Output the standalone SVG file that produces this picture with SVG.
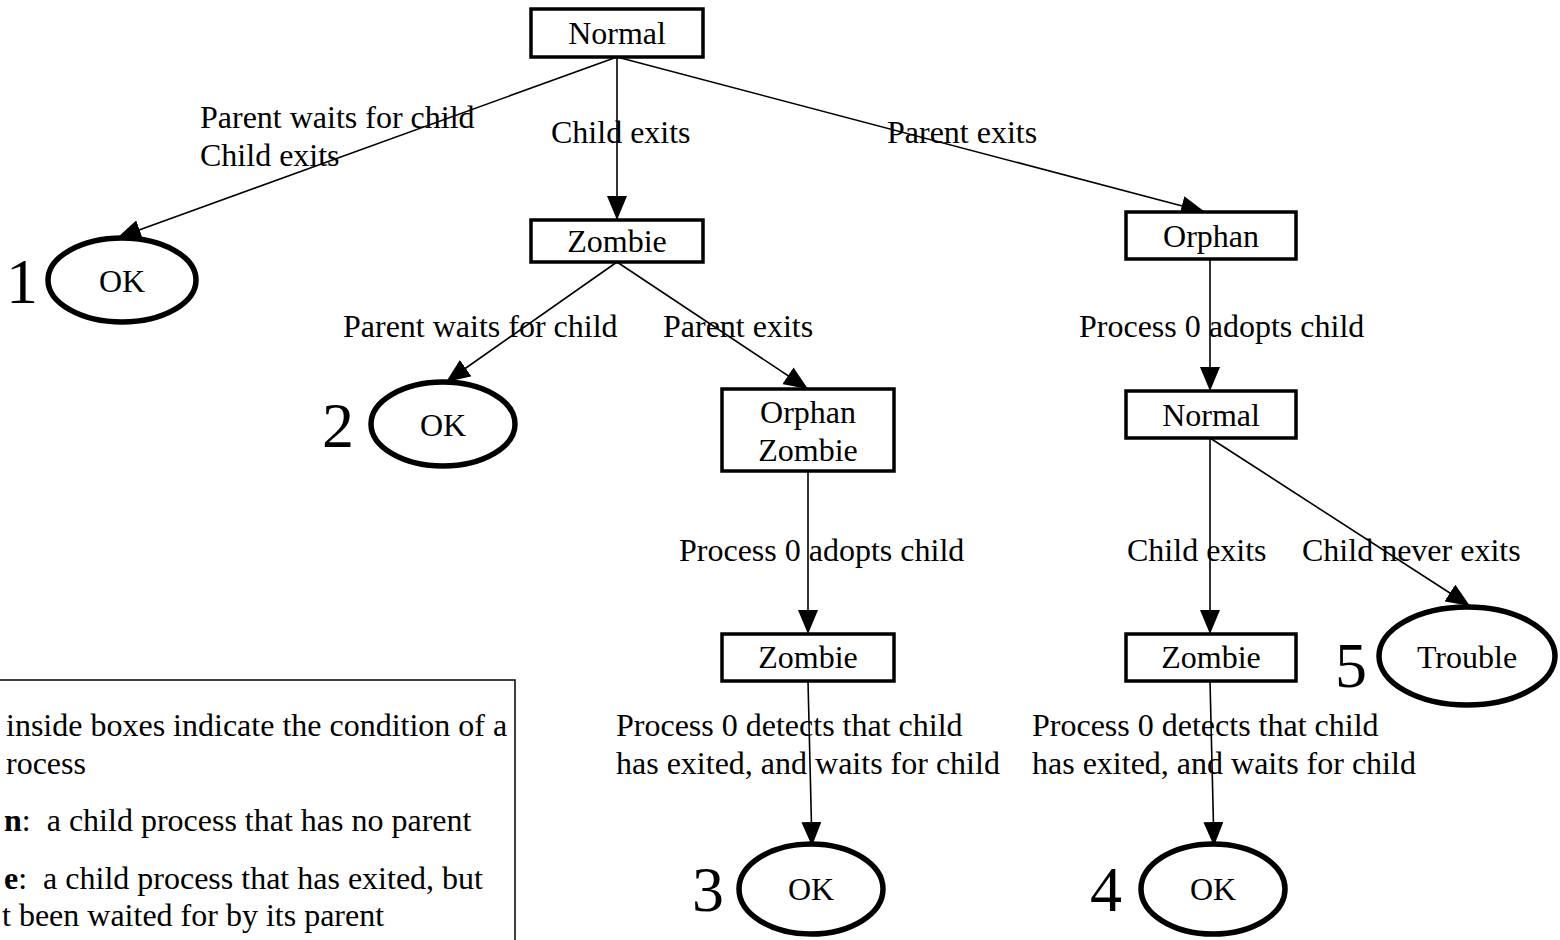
<svg xmlns="http://www.w3.org/2000/svg" width="1560" height="940" viewBox="0 0 1560 940">
<defs>
<marker id="ah" markerUnits="userSpaceOnUse" markerWidth="24" markerHeight="20" viewBox="0 0 24 20" refX="24" refY="10" orient="auto">
<path d="M0,0 L24,10 L0,20 Z" fill="#000"/>
</marker>
<style>
text{font-family:"Liberation Serif","Times New Roman",serif;font-size:32px;fill:#000;white-space:pre}
.box{fill:#fff;stroke:#000;stroke-width:3.5}
.ell{fill:#fff;stroke:#000;stroke-width:5.5}
.c{text-anchor:middle}
.num{font-size:64px}
.edge{stroke:#000;stroke-width:1.6;fill:none;marker-end:url(#ah)}
.leg{fill:#fff;stroke:#000;stroke-width:1.5}
</style>
</defs>
<rect width="1560" height="940" fill="#fff"/>
<g id="legend">
<rect class="leg" x="-10" y="680" width="525" height="280"/>
<text x="6" y="736">inside boxes indicate the condition of a</text>
<text x="6" y="774">rocess</text>
<text x="4" y="831" xml:space="preserve"><tspan font-weight="bold">n</tspan>:  a child process that has no parent</text>
<text x="4" y="889" xml:space="preserve"><tspan font-weight="bold">e</tspan>:  a child process that has exited, but</text>
<text x="2" y="926">t been waited for by its parent</text>
</g>
<g id="connectors">
<line class="edge" x1="617" y1="57" x2="117" y2="238"/>
<line class="edge" x1="617" y1="57" x2="617" y2="220"/>
<line class="edge" x1="617" y1="57" x2="1205" y2="212"/>
<line class="edge" x1="617" y1="262" x2="446" y2="382"/>
<line class="edge" x1="617" y1="262" x2="808" y2="389"/>
<line class="edge" x1="1210" y1="259" x2="1210" y2="391"/>
<line class="edge" x1="808" y1="471" x2="808" y2="634"/>
<line class="edge" x1="1210" y1="438" x2="1210" y2="634"/>
<line class="edge" x1="1210" y1="438" x2="1470" y2="606"/>
<line class="edge" x1="808" y1="681" x2="812" y2="846"/>
<line class="edge" x1="1210" y1="681" x2="1214" y2="846"/>
<text x="200" y="128">Parent waits for child</text>
<text x="200" y="166">Child exits</text>
<text x="551" y="143">Child exits</text>
<text x="887" y="143">Parent exits</text>
<text x="343" y="337">Parent waits for child</text>
<text x="663" y="337">Parent exits</text>
<text x="1079" y="337">Process 0 adopts child</text>
<text x="679" y="561">Process 0 adopts child</text>
<text x="1127" y="561">Child exits</text>
<text x="1302" y="561">Child never exits</text>
<text x="616" y="736">Process 0 detects that child</text>
<text x="616" y="774">has exited, and waits for child</text>
<text x="1032" y="736">Process 0 detects that child</text>
<text x="1032" y="774">has exited, and waits for child</text>
</g>
<g id="n-normal-top">
<rect class="box" x="531" y="9" width="172" height="48"/>
<text class="c" x="617" y="44">Normal</text>
</g>
<g id="n-zombie-1">
<rect class="box" x="531" y="220" width="172" height="42"/>
<text class="c" x="617" y="252">Zombie</text>
</g>
<g id="n-orphan">
<rect class="box" x="1126" y="212" width="170" height="47"/>
<text class="c" x="1211" y="247">Orphan</text>
</g>
<g id="n-ok1">
<ellipse class="ell" cx="122" cy="280" rx="74" ry="42"/>
<text class="c" x="122" y="292">OK</text>
<text class="num" x="6" y="303">1</text>
</g>
<g id="n-ok2">
<ellipse class="ell" cx="443" cy="424" rx="72" ry="42"/>
<text class="c" x="443" y="436">OK</text>
<text class="num" x="322" y="447">2</text>
</g>
<g id="n-orphan-zombie">
<rect class="box" x="722" y="389" width="172" height="82"/>
<text class="c" x="808" y="423">Orphan</text>
<text class="c" x="808" y="461">Zombie</text>
</g>
<g id="n-normal-2">
<rect class="box" x="1126" y="391" width="170" height="47"/>
<text class="c" x="1211" y="426">Normal</text>
</g>
<g id="n-zombie-2">
<rect class="box" x="722" y="634" width="172" height="47"/>
<text class="c" x="808" y="668">Zombie</text>
</g>
<g id="n-zombie-3">
<rect class="box" x="1126" y="634" width="170" height="47"/>
<text class="c" x="1211" y="668">Zombie</text>
</g>
<g id="n-trouble">
<ellipse class="ell" cx="1467" cy="656" rx="88" ry="49"/>
<text class="c" x="1467" y="668">Trouble</text>
<text class="num" x="1335" y="687">5</text>
</g>
<g id="n-ok3">
<ellipse class="ell" cx="811" cy="889" rx="72" ry="45"/>
<text class="c" x="811" y="900">OK</text>
<text class="num" x="692" y="911">3</text>
</g>
<g id="n-ok4">
<ellipse class="ell" cx="1213" cy="889" rx="72" ry="45"/>
<text class="c" x="1213" y="900">OK</text>
<text class="num" x="1090" y="911">4</text>
</g>
</svg>
